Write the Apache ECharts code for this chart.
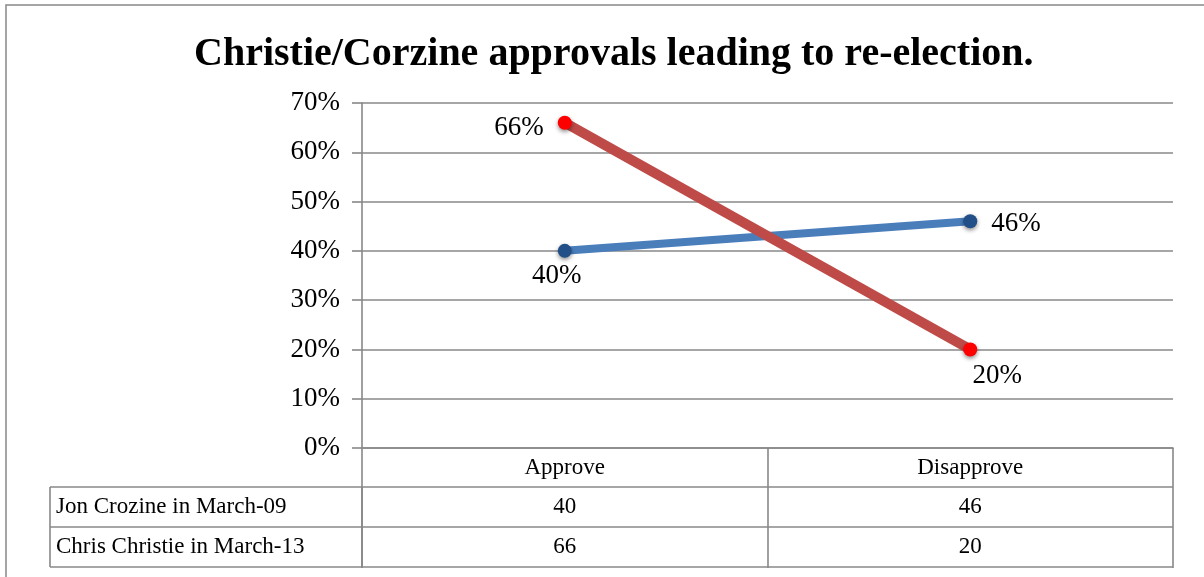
<!DOCTYPE html>
<html>
<head>
<meta charset="utf-8">
<script src="https://cdn.jsdelivr.net/npm/echarts@6/dist/echarts.min.js"></script>
<style>
html,body{margin:0;padding:0;background:#fff;}
#main{width:1204px;height:577px;}
</style>
</head>
<body>
<div id="main"></div>
<script>
const titleText = 'Christie/Corzine approvals leading to re-election.';
const categories = ['Approve', 'Disapprove'];
const seriesNames = ['Jon Crozine in March-09', 'Chris Christie in March-13'];
const corzineValues = [40, 46];
const christieValues = [66, 20];
const yMin = 0, yMax = 70, yInterval = 10;

const FONT = 'Liberation Serif';
const GRAY = '#888888';

const chart = echarts.init(document.getElementById('main'), null, {renderer: 'canvas'});

const labelCfgCorzine = [
  {position: 'bottom', offset: [-8, 0]},
  {position: 'right', offset: [9, 3]}
];
const labelCfgChristie = [
  {position: 'left', offset: [-9, 5]},
  {position: 'bottom', offset: [27, 1]}
];

function mkData(vals, cfg) {
  return vals.map((v, i) => ({value: v, label: cfg[i]}));
}

const labelStyle = {
  show: true,
  fontFamily: FONT,
  fontSize: 27,
  color: '#000',
  formatter: p => p.value + '%'
};

chart.setOption({
  animation: false,
  title: {
    text: titleText,
    left: 189,
    top: 30,
    textStyle: {fontFamily: FONT, fontWeight: 'bold', fontSize: 40, color: '#000'}
  },
  grid: {left: 362, right: 31, top: 103, bottom: 129},
  xAxis: {
    type: 'category',
    data: categories,
    boundaryGap: true,
    axisLine: {show: true, lineStyle: {color: GRAY, width: 1.6}},
    axisTick: {show: true, length: 120, interval: 0, lineStyle: {color: GRAY, width: 1.6}},
    axisLabel: {fontFamily: FONT, fontSize: 23, color: '#000', margin: 8}
  },
  yAxis: {
    type: 'value',
    min: yMin, max: yMax, interval: yInterval,
    axisLine: {show: true, lineStyle: {color: GRAY, width: 1.6}},
    axisTick: {show: true, length: 10, lineStyle: {color: GRAY, width: 1.6}},
    axisLabel: {fontFamily: FONT, fontSize: 27, color: '#000', margin: 22, formatter: '{value}%'},
    splitLine: {show: true, lineStyle: {color: GRAY, width: 1.6}}
  },
  series: [
    {
      name: seriesNames[0],
      type: 'line',
      data: mkData(corzineValues, labelCfgCorzine),
      symbol: 'circle', symbolSize: 14,
      lineStyle: {color: '#4a7ebb', width: 8},
      itemStyle: {color: '#224f88', shadowBlur: 4, shadowColor: 'rgba(0,0,0,0.45)', shadowOffsetY: 2},
      label: labelStyle,
      z: 3
    },
    {
      name: seriesNames[1],
      type: 'line',
      data: mkData(christieValues, labelCfgChristie),
      symbol: 'circle', symbolSize: 14,
      lineStyle: {color: '#be4b48', width: 10},
      itemStyle: {color: '#ff0000', shadowBlur: 4, shadowColor: 'rgba(0,0,0,0.45)', shadowOffsetY: 2},
      label: labelStyle,
      z: 4
    }
  ]
});

// Build the data table below the axis from the arrays
const y0 = chart.convertToPixel({yAxisIndex: 0}, 0);
const step = chart.convertToPixel({xAxisIndex: 0}, categories[1]) - chart.convertToPixel({xAxisIndex: 0}, categories[0]);
const xRight = chart.convertToPixel({xAxisIndex: 0}, categories[categories.length - 1]) + step / 2;
const yAxisX = chart.convertToPixel({xAxisIndex: 0}, categories[0]) - step / 2;
const tableLeft = 50;
const rowH = 40;
const gElems = [];
gElems.push({type: 'rect', shape: {x: 6, y: 5, width: 1300, height: 700},
  style: {fill: 'none', stroke: GRAY, lineWidth: 1.5}, silent: true});
const rows = [corzineValues, christieValues];
for (let r = 0; r <= rows.length; r++) {
  const yy = y0 + 39 + r * rowH;
  gElems.push({type: 'line', shape: {x1: tableLeft, y1: yy, x2: xRight, y2: yy},
    style: {stroke: GRAY, lineWidth: 1.6}, silent: true});
}
gElems.push({type: 'line', shape: {x1: tableLeft, y1: y0 + 39, x2: tableLeft, y2: y0 + 39 + rows.length * rowH},
  style: {stroke: GRAY, lineWidth: 1.6}, silent: true});
gElems.push({type: 'line', shape: {x1: yAxisX, y1: y0 + 39, x2: yAxisX, y2: y0 + 39 + rows.length * rowH},
  style: {stroke: GRAY, lineWidth: 1.6}, silent: true});
rows.forEach((vals, r) => {
  const cy = y0 + 39 + r * rowH + rowH / 2;
  gElems.push({type: 'text', x: tableLeft + 6, y: cy,
    style: {text: seriesNames[r], font: '23px "' + FONT + '"', fill: '#000', textVerticalAlign: 'middle', textAlign: 'left'}, silent: true});
  vals.forEach((v, c) => {
    const cx = chart.convertToPixel({xAxisIndex: 0}, categories[c]);
    gElems.push({type: 'text', x: cx, y: cy,
      style: {text: String(v), font: '23px "' + FONT + '"', fill: '#000', textVerticalAlign: 'middle', textAlign: 'center'}, silent: true});
  });
});
chart.setOption({graphic: {elements: gElems}});
</script>
</body>
</html>
